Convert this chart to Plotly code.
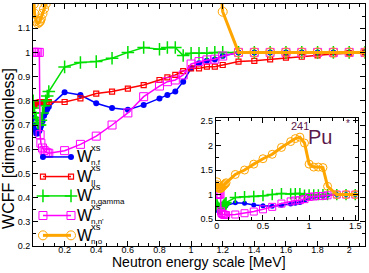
import plotly.graph_objects as go

# Energy grid [MeV]
energy = [0.001, 0.005, 0.01, 0.02, 0.03, 0.04, 0.045, 0.05, 0.06, 0.07, 0.08, 0.09, 0.1,
          0.2, 0.3, 0.4, 0.5, 0.6, 0.7, 0.8, 0.85, 0.9, 0.95, 1.0, 1.05, 1.1, 1.15, 1.2,
          1.3, 1.4, 1.5, 1.6, 1.7, 1.8, 1.9, 2.0, 2.1]

w_nf = [0.73, 0.70, 0.68, 0.665, 0.665, 0.675, 0.685, 0.695, 0.715, 0.738, 0.752, 0.765, 0.775,
        0.835, 0.824, 0.79, 0.77, 0.763, 0.783, 0.81, 0.824, 0.838, 0.879, 0.934, 0.955, 0.965, 0.971, 0.985,
        1.0, 1.0, 1.0, 1.0, 1.0, 1.0, 1.0, 1.0, 1.0]

w_ii = [0.78, 0.782, 0.785, 0.79, 0.792, 0.793, 0.794, 0.795, 0.795, 0.795, 0.795, 0.795, 0.795,
        0.795, 0.81, 0.83, 0.838, 0.85, 0.865, 0.886, 0.897, 0.907, 0.923, 0.934, 0.934, 0.941, 0.941, 0.948,
        0.962, 0.965, 0.971, 0.978, 0.982, 0.988, 0.993, 0.996, 1.0]

w_ngamma = [0.80, 0.77, 0.75, 0.73, 0.71, 0.70, 0.70, 0.72, 0.75, 0.78, 0.80, 0.82, 0.838,
            0.94, 0.958, 0.962, 0.976, 1.0, 1.02, 1.013, 1.02, 1.02, 0.987, 0.996, 0.996, 0.996, 1.0, 1.0,
            1.0, 1.0, 1.0, 1.0, 1.0, 1.0, 1.0, 1.0, 1.0]

w_nnp = [1.0, 1.0, 1.0, 1.0, 1.0, 1.0, 0.66, 0.625, 0.605, 0.595, 0.588, 0.585, 0.583,
         0.594, 0.62, 0.654, 0.70, 0.75, 0.817, 0.861, 0.879, 0.886, 0.907, 0.952, 0.962, 0.969, 0.972, 0.985,
         1.0, 1.0, 1.0, 1.0, 1.0, 1.0, 1.0, 1.0, 1.0]

w_no = [1.26, 1.2, 1.16, 1.13, 1.12, 1.125, 1.13, 1.14, 1.16, 1.18, 1.2, 1.22, 1.24,
        1.41, 1.50, 1.62, 1.73, 1.82, 1.96, 2.08, 2.14, 2.17, 2.05, 1.62, 1.56, 1.56, 1.55, 1.168,
        1.0, 1.0, 1.0, 1.0, 1.0, 1.0, 1.0, 1.0, 1.0]

series = [w_nf, w_ii, w_ngamma, w_nnp, w_no]
subscripts = ["n,f", "II", "n,gamma", "n,n'", "n,o"]

x_tickvals = [0.2, 0.4, 0.6, 0.8, 1.0, 1.2, 1.4, 1.6, 1.8, 2.0]
x_ticktext = ["0.2", "0.4", "0.6", "0.8", "1", "1.2", "1.4", "1.6", "1.8", "2"]

styles = [
    dict(color="#0000ff", symbol="circle", size=6, lw=1.5, mlw=0),
    dict(color="#ff0000", symbol="square-open", size=5, lw=1.5, mlw=1.2),
    dict(color="#00e000", symbol="cross-thin-open", size=9, lw=1.5, mlw=1.5),
    dict(color="#ff00ff", symbol="square-open", size=8, lw=1.5, mlw=1),
    dict(color="#ffa500", symbol="circle-open", size=9, lw=3, mlw=1),
]

# legend layout (paper fractions of the main plot area)
leg_x0, leg_x1 = 0.030, 0.1145
leg_rows = [0.368, 0.287, 0.207, 0.126, 0.044]
leg_text_x = 0.128
leg_sub_x = 0.172

fig = go.Figure()
for name, vals, st in zip(subscripts, series, styles):
    fig.add_trace(go.Scatter(
        x=energy, y=vals, mode="lines+markers", name="W xs " + name, showlegend=False,
        line=dict(color=st["color"], width=st["lw"]),
        marker=dict(color=st["color"], symbol=st["symbol"], size=st["size"],
                    line=dict(color=st["color"], width=st["mlw"])),
        xaxis="x", yaxis="y"))

# inset (no W_II)
for idx in [0, 2, 3, 4]:
    st = styles[idx]
    fig.add_trace(go.Scatter(
        x=energy, y=series[idx], mode="lines+markers", showlegend=False,
        line=dict(color=st["color"], width=st["lw"]),
        marker=dict(color=st["color"], symbol=st["symbol"], size=st["size"] - 1,
                    line=dict(color=st["color"], width=st["mlw"])),
        xaxis="x2", yaxis="y2"))

# legend samples (line with a marker at each end)
annotations = []
for row, sub, st in zip(leg_rows, subscripts, styles):
    fig.add_trace(go.Scatter(
        x=[leg_x0, leg_x1], y=[row, row], mode="lines+markers", showlegend=False,
        hoverinfo="skip", cliponaxis=False,
        line=dict(color=st["color"], width=st["lw"]),
        marker=dict(color=st["color"], symbol=st["symbol"], size=st["size"],
                    line=dict(color=st["color"], width=st["mlw"])),
        xaxis="x3", yaxis="y3"))
    annotations.append(dict(text="W", x=leg_text_x, y=row, xref="paper", yref="paper",
                            xanchor="left", yanchor="middle", showarrow=False,
                            font=dict(size=16, color="black")))
    annotations.append(dict(text="xs", x=leg_sub_x, y=row + 0.038, xref="paper", yref="paper",
                            xanchor="left", yanchor="middle", showarrow=False, borderpad=0,
                            font=dict(size=9.5, color="black")))
    annotations.append(dict(text=sub, x=leg_sub_x, y=row - 0.024, xref="paper", yref="paper",
                            xanchor="left", yanchor="middle", showarrow=False, borderpad=0,
                            font=dict(size=8, color="black")))

annotations += [
    dict(text="Neutron energy scale [MeV]", x=0.5, y=-0.068, xref="paper", yref="paper",
         xanchor="center", yanchor="middle", showarrow=False, font=dict(size=14, color="black")),
    dict(text="WCFF [dimensionless]", x=-0.074, y=0.403, xref="paper", yref="paper",
         xanchor="center", yanchor="middle", textangle=-90, showarrow=False,
         font=dict(size=16, color="black")),
    dict(text="241", x=0.836, y=0.497, xref="paper", yref="paper", showarrow=False,
         font=dict(size=11, color="#5c1a4a")),
    dict(text="Pu", x=0.908, y=0.452, xref="paper", yref="paper", showarrow=False,
         font=dict(size=20, color="#5c1a4a")),
    dict(text="*", x=0.962, y=0.505, xref="paper", yref="paper", showarrow=False,
         font=dict(size=10, color="#5c1a4a")),
]

axis_common = dict(showline=True, linecolor="black", linewidth=1, mirror="allticks",
                   ticks="inside", tickcolor="black", showgrid=False, zeroline=False,
                   automargin=False,
                   tickfont=dict(family="Liberation Sans, Arial", size=9, color="black"))

fig.update_layout(
    width=369, height=273,
    margin=dict(l=33, r=4, t=4, b=27),
    paper_bgcolor="white", plot_bgcolor="white",
    font=dict(family="Liberation Sans, Arial", color="black"),
    showlegend=False,
    xaxis=dict(range=[0, 2.1], tickmode="array", tickvals=x_tickvals, ticktext=x_ticktext,
               ticklen=5, ticklabelstandoff=-5,
               minor=dict(dtick=0.2 / 3, tick0=0, ticklen=3, ticks="inside", tickcolor="black"),
               **axis_common),
    yaxis=dict(range=[0.2, 1.2], dtick=0.1, tick0=0.2, ticklen=5,
               minor=dict(dtick=0.05, ticklen=3, ticks="inside", tickcolor="black"),
               **axis_common),
    xaxis2=dict(domain=[0.551, 0.979], anchor="y2", range=[-0.01, 1.53], dtick=0.5, tick0=0,
                ticklen=5, ticklabelstandoff=-3,
                minor=dict(dtick=0.125, ticklen=3, ticks="inside", tickcolor="black"),
                **axis_common),
    yaxis2=dict(domain=[0.107, 0.529], anchor="x2", range=[0.48, 2.56], dtick=0.5, tick0=0.5,
                ticklen=5, minor=dict(dtick=0.25, ticklen=3, ticks="inside", tickcolor="black"),
                **axis_common),
    xaxis3=dict(domain=[0, 1], anchor="y3", range=[0, 1], visible=False, overlaying="x"),
    yaxis3=dict(domain=[0, 1], anchor="x3", range=[0, 1], visible=False, overlaying="y"),
    annotations=annotations,
)

fig.write_html("out.html", config={"displayModeBar": False},
               post_script="document.body.style.margin='0';")
